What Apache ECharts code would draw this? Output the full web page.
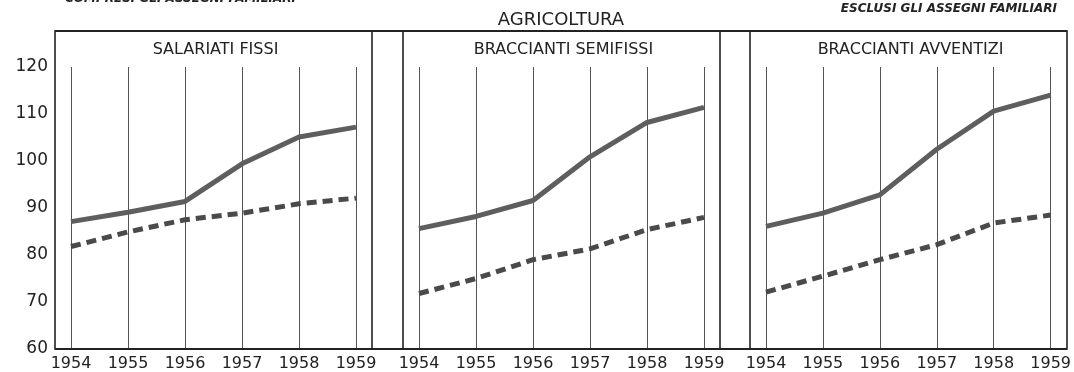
<!DOCTYPE html>
<html>
<head>
<meta charset="utf-8">
<script src="https://cdn.jsdelivr.net/npm/echarts@6/dist/echarts.min.js"></script>
<style>
  html, body { margin: 0; padding: 0; background: #ffffff; }
  #chart { width: 1074px; height: 372px; }
</style>
</head>
<body>
<div id="chart"></div>
<script>
// Indici delle retribuzioni in agricoltura, 1954-1959
const years = [1954, 1955, 1956, 1957, 1958, 1959];
const yTicks = [60, 70, 80, 90, 100, 110, 120];

const panelTitles = ['SALARIATI FISSI', 'BRACCIANTI SEMIFISSI', 'BRACCIANTI AVVENTIZI'];

// compresi gli assegni familiari (linea continua)
const salariatiCon = [87.1, 89.1, 91.4, 99.4, 105.1, 107.2];
const semifissiCon = [85.6, 88.2, 91.6, 100.9, 108.2, 111.4];
const avventiziCon = [86.1, 88.9, 92.8, 102.5, 110.6, 114.0];

// esclusi gli assegni familiari (linea tratteggiata)
const salariatiSenza = [81.8, 84.9, 87.5, 88.9, 90.9, 92.1];
const semifissiSenza = [71.8, 75.0, 79.0, 81.3, 85.4, 88.0];
const avventiziSenza = [72.1, 75.5, 79.0, 82.2, 86.8, 88.5];

const withAllowances = [salariatiCon, semifissiCon, avventiziCon];
const withoutAllowances = [salariatiSenza, semifissiSenza, avventiziSenza];

const chart = echarts.init(document.getElementById('chart'), null, { renderer: 'canvas' });

// layout of the three framed panels
const panelLeft = [55, 403, 750];
const panelWidth = 317;
const frameTop = 31;
const frameBottom = 349;
const plotInset = 16;
const plotWidth = 285;
const plotTop = 67;

const font = '"DejaVu Sans", sans-serif';
const ink = '#222222';
const lineGray = '#5e5e5e';

const grids = [], xAxes = [], yAxes = [], series = [], graphics = [];

panelLeft.forEach((left, i) => {
  grids.push({
    left: left + plotInset,
    width: plotWidth,
    top: plotTop,
    height: frameBottom - plotTop,
    show: false
  });
  xAxes.push({
    type: 'value',
    gridIndex: i,
    min: years[0],
    max: years[years.length - 1],
    interval: 1,
    axisLine: { show: false },
    axisTick: { show: false },
    axisLabel: {
      show: true,
      margin: 7,
      color: ink,
      fontFamily: font,
      fontSize: 16,
      formatter: v => String(v)
    },
    splitLine: { show: true, lineStyle: { color: '#555555', width: 1 } }
  });
  yAxes.push({
    type: 'value',
    gridIndex: i,
    min: yTicks[0],
    max: yTicks[yTicks.length - 1],
    interval: 10,
    axisLine: { show: false },
    axisTick: { show: false },
    splitLine: { show: false },
    axisLabel: {
      show: i === 0,
      margin: 23,
      color: ink,
      fontFamily: font,
      fontSize: 17
    }
  });
  series.push({
    type: 'line',
    xAxisIndex: i,
    yAxisIndex: i,
    data: years.map((y, k) => [y, withAllowances[i][k]]),
    symbol: 'none',
    lineStyle: { color: lineGray, width: 5, cap: 'butt', join: 'round' },
    z: 3
  });
  series.push({
    type: 'line',
    xAxisIndex: i,
    yAxisIndex: i,
    data: years.map((y, k) => [y, withoutAllowances[i][k]]),
    symbol: 'none',
    lineStyle: { color: '#4a4a4a', width: 5, type: [10, 6], cap: 'butt', join: 'round' },
    z: 3
  });
  // panel frame
  graphics.push({
    type: 'rect',
    shape: { x: left, y: frameTop, width: panelWidth, height: frameBottom - frameTop },
    style: { fill: null, stroke: ink, lineWidth: 1.6 },
    z: 10
  });
  // panel heading
  graphics.push({
    type: 'text',
    x: left + panelWidth / 2 + 2,
    y: 50,
    style: {
      text: panelTitles[i],
      fill: ink,
      font: '16px ' + font,
      textAlign: 'center',
      textVerticalAlign: 'middle'
    },
    z: 10
  });
});

// continuous top and bottom rules across the whole block
graphics.push({
  type: 'line',
  shape: { x1: panelLeft[0], y1: frameTop, x2: panelLeft[2] + panelWidth, y2: frameTop },
  style: { stroke: ink, lineWidth: 2 },
  z: 10
});
graphics.push({
  type: 'line',
  shape: { x1: panelLeft[0], y1: frameBottom, x2: panelLeft[2] + panelWidth, y2: frameBottom },
  style: { stroke: ink, lineWidth: 2 },
  z: 10
});

// main heading and series notes
graphics.push({
  type: 'text', x: 561, y: 20,
  style: { text: 'AGRICOLTURA', fill: ink, font: '18px ' + font, textAlign: 'center', textVerticalAlign: 'middle' }
});
graphics.push({
  type: 'text', x: 65, y: 5,
  style: { text: 'COMPRESI GLI ASSEGNI FAMILIARI', fill: ink, font: 'italic bold 12px ' + font, textAlign: 'left', textVerticalAlign: 'bottom' }
});
graphics.push({
  type: 'text', x: 1057, y: 15,
  style: { text: 'ESCLUSI GLI ASSEGNI FAMILIARI', fill: ink, font: 'italic bold 12px ' + font, textAlign: 'right', textVerticalAlign: 'bottom' }
});

chart.setOption({
  backgroundColor: '#ffffff',
  animation: false,
  grid: grids,
  xAxis: xAxes,
  yAxis: yAxes,
  series: series,
  graphic: graphics
});
</script>
</body>
</html>
